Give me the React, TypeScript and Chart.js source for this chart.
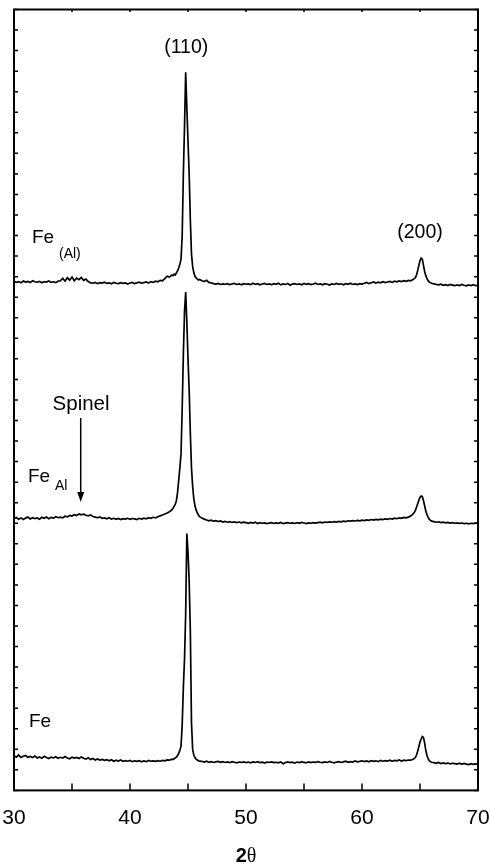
import { useEffect, useRef } from 'react';
import { Chart, registerables } from 'chart.js';

Chart.register(...registerables);

// 2θ (degrees) sampling positions
const twoTheta = [
  30.0, 30.2, 30.4, 30.6, 30.8, 31.0, 31.2, 31.4, 31.6, 31.8,
  32.0, 32.2, 32.4, 32.6, 32.8, 33.0, 33.2, 33.4, 33.6, 33.8,
  34.0, 34.2, 34.4, 34.6, 34.8, 35.0, 35.2, 35.4, 35.6, 35.8,
  36.0, 36.2, 36.4, 36.6, 36.8, 37.0, 37.2, 37.4, 37.6, 37.8,
  38.0, 38.2, 38.4, 38.6, 38.8, 39.0, 39.2, 39.4, 39.6, 39.8,
  40.0, 40.2, 40.4, 40.6, 40.8, 41.0, 41.2, 41.4, 41.6, 41.8,
  42.0, 42.2, 42.4, 42.6, 42.8, 43.0, 43.2, 43.4, 43.6,
  43.7, 43.8, 43.9, 44.0, 44.1, 44.2, 44.3, 44.4, 44.5, 44.6, 44.7, 44.8,
  44.9, 45.0, 45.1, 45.2, 45.3, 45.4, 45.5, 45.6, 45.7, 45.8, 45.9, 46.0,
  46.2, 46.4, 46.6, 46.8, 47.0, 47.2, 47.4, 47.6, 47.8, 48.0,
  48.2, 48.4, 48.6, 48.8, 49.0, 49.2, 49.4, 49.6, 49.8, 50.0,
  50.2, 50.4, 50.6, 50.8, 51.0, 51.2, 51.4, 51.6, 51.8, 52.0,
  52.2, 52.4, 52.6, 52.8, 53.0, 53.2, 53.4, 53.6, 53.8, 54.0,
  54.2, 54.4, 54.6, 54.8, 55.0, 55.2, 55.4, 55.6, 55.8, 56.0,
  56.2, 56.4, 56.6, 56.8, 57.0, 57.2, 57.4, 57.6, 57.8, 58.0,
  58.2, 58.4, 58.6, 58.8, 59.0, 59.2, 59.4, 59.6, 59.8, 60.0,
  60.2, 60.4, 60.6, 60.8, 61.0, 61.2, 61.4, 61.6, 61.8, 62.0,
  62.2, 62.4, 62.6, 62.8, 63.0, 63.2, 63.4, 63.6, 63.8, 64.0,
  64.2, 64.4,
  64.5, 64.6, 64.7, 64.8, 64.9, 65.0, 65.1, 65.2,
  65.3, 65.4, 65.5, 65.6, 65.7, 65.8, 65.9, 66.0,
  66.2, 66.4, 66.6, 66.8, 67.0, 67.2, 67.4, 67.6, 67.8, 68.0,
  68.2, 68.4, 68.6, 68.8, 69.0, 69.2, 69.4, 69.6, 69.8, 70.0,
];

// Fe(Al) pattern (top, offset intensity)
const feAlSolid = [
  24.78, 24.72, 24.76, 24.70, 24.79, 24.74, 24.77, 24.71, 24.80, 24.75,
  24.73, 24.77, 24.70, 24.76, 24.74, 24.79, 24.72, 24.75, 24.71, 24.78,
  24.80, 24.92, 24.78, 24.95, 24.83, 24.98, 24.80, 24.93, 24.85, 24.96,
  24.82, 24.88, 24.76, 24.70, 24.68, 24.72, 24.66, 24.71, 24.69, 24.73,
  24.67, 24.70, 24.65, 24.72, 24.68, 24.66, 24.71, 24.67, 24.70, 24.64,
  24.69, 24.72, 24.66, 24.70, 24.73, 24.68, 24.71, 24.74, 24.69, 24.76,
  24.72, 24.78, 24.75, 24.82, 24.80, 24.90, 25.02, 24.98, 25.08,
  25.05, 25.12, 25.08, 25.18, 25.28, 25.42, 25.60, 25.85, 27.00, 30.00, 32.30, 34.95,
  33.20, 31.60, 30.00, 27.80, 26.10, 25.50, 25.20, 25.02, 24.95, 24.88, 24.84, 24.86,
  24.80, 24.76, 24.82, 24.72, 24.70, 24.66, 24.64, 24.67, 24.62, 24.65,
  24.63, 24.66, 24.61, 24.64, 24.67, 24.62, 24.65, 24.60, 24.66, 24.63,
  24.65, 24.61, 24.68, 24.63, 24.66, 24.60, 24.64, 24.67, 24.62, 24.65,
  24.61, 24.66, 24.63, 24.68, 24.60, 24.65, 24.62, 24.67, 24.58, 24.64,
  24.66, 24.62, 24.65, 24.60, 24.67, 24.63, 24.66, 24.61, 24.64, 24.68,
  24.62, 24.65, 24.60, 24.66, 24.63, 24.59, 24.65, 24.62, 24.67, 24.63,
  24.65, 24.60, 24.66, 24.63, 24.68, 24.62, 24.65, 24.61, 24.66, 24.64,
  24.68, 24.72, 24.66, 24.70, 24.74, 24.69, 24.73, 24.70, 24.75, 24.71,
  24.74, 24.77, 24.72, 24.78, 24.75, 24.79, 24.76, 24.80, 24.77, 24.82,
  24.80, 24.86,
  24.90, 24.95, 25.08, 25.30, 25.55, 25.78, 25.90, 25.85,
  25.55, 25.25, 25.05, 24.90, 24.80, 24.75, 24.70, 24.68,
  24.65, 24.62, 24.60, 24.63, 24.58, 24.61, 24.57, 24.62, 24.59, 24.56,
  24.60, 24.57, 24.62, 24.58, 24.55, 24.60, 24.57, 24.61, 24.56, 24.58,
];

// Fe_Al pattern (middle)
const feAlCoated = [
  13.22, 13.28, 13.20, 13.26, 13.18, 13.25, 13.30, 13.21, 13.27, 13.23,
  13.26, 13.20, 13.29, 13.24, 13.30, 13.22, 13.28, 13.25, 13.32, 13.27,
  13.30, 13.26, 13.34, 13.31, 13.38, 13.35, 13.42, 13.38, 13.45, 13.41,
  13.44, 13.39, 13.36, 13.40, 13.33, 13.30, 13.27, 13.31, 13.24, 13.26,
  13.22, 13.27, 13.20, 13.24, 13.19, 13.23, 13.18, 13.22, 13.20, 13.24,
  13.19, 13.23, 13.21, 13.18, 13.24, 13.20, 13.25, 13.22, 13.27, 13.24,
  13.29, 13.26, 13.32, 13.36, 13.40, 13.45, 13.50, 13.56, 13.65,
  13.72, 13.82, 13.92, 14.10, 14.50, 15.10, 15.70, 16.40, 18.60, 21.20, 23.30, 24.25,
  22.80, 21.00, 19.50, 17.40, 15.70, 14.80, 14.20, 13.85, 13.65, 13.50, 13.40, 13.32,
  13.25, 13.20, 13.16, 13.12, 13.15, 13.10, 13.13, 13.08, 13.11, 13.06,
  13.09, 13.05, 13.08, 13.04, 13.07, 13.03, 13.06, 13.02, 13.05, 13.03,
  13.00, 13.04, 13.01, 13.05, 12.99, 13.03, 13.00, 13.02, 12.98, 13.01,
  13.03, 12.99, 13.02, 13.00, 13.04, 12.98, 13.01, 13.03, 13.00, 13.02,
  12.99, 13.03, 13.00, 13.04, 13.01, 12.98, 13.02, 13.00, 13.03, 13.01,
  13.03, 13.05, 13.02, 13.06, 13.04, 13.07, 13.05, 13.08, 13.06, 13.09,
  13.07, 13.10, 13.08, 13.12, 13.10, 13.13, 13.11, 13.14, 13.12, 13.15,
  13.13, 13.16, 13.14, 13.18, 13.15, 13.19, 13.17, 13.20, 13.18, 13.21,
  13.19, 13.23, 13.20, 13.25, 13.22, 13.26, 13.24, 13.28, 13.26, 13.30,
  13.35, 13.45,
  13.52, 13.62, 13.78, 13.95, 14.12, 14.25, 14.32, 14.30,
  14.10, 13.85, 13.60, 13.42, 13.30, 13.20, 13.14, 13.10,
  13.08, 13.05, 13.07, 13.03, 13.05, 13.02, 13.04, 13.01, 13.03, 13.00,
  13.02, 12.99, 13.01, 12.98, 13.00, 12.97, 13.00, 12.98, 13.01, 12.99,
];

// Fe pattern (bottom)
const fePure = [
  1.68, 1.62, 1.72, 1.60, 1.66, 1.70, 1.61, 1.65, 1.60, 1.67,
  1.58, 1.63, 1.57, 1.66, 1.60, 1.55, 1.62, 1.58, 1.64, 1.56,
  1.61, 1.57, 1.65, 1.58, 1.54, 1.62, 1.57, 1.60, 1.55, 1.63,
  1.56, 1.52, 1.59, 1.50, 1.55, 1.48, 1.53, 1.47, 1.51, 1.46,
  1.50, 1.44, 1.49, 1.42, 1.47, 1.43, 1.48, 1.41, 1.45, 1.42,
  1.46, 1.40, 1.44, 1.41, 1.45, 1.39, 1.43, 1.40, 1.46, 1.42,
  1.44, 1.41, 1.45, 1.42, 1.46, 1.44, 1.48, 1.47, 1.52,
  1.50, 1.54, 1.58, 1.62, 1.70, 1.80, 1.95, 2.15, 3.20, 5.00, 6.40, 8.60,
  12.50, 11.60, 10.20, 7.80, 3.30, 2.00, 1.72, 1.60, 1.52, 1.48, 1.44, 1.42,
  1.41, 1.38, 1.42, 1.37, 1.40, 1.36, 1.39, 1.41, 1.37, 1.40,
  1.36, 1.39, 1.35, 1.40, 1.37, 1.34, 1.38, 1.36, 1.39, 1.35,
  1.38, 1.34, 1.39, 1.36, 1.40, 1.35, 1.37, 1.33, 1.38, 1.36,
  1.39, 1.35, 1.37, 1.34, 1.38, 1.30, 1.36, 1.39, 1.35, 1.37,
  1.33, 1.38, 1.35, 1.40, 1.36, 1.34, 1.39, 1.35, 1.38, 1.36,
  1.40, 1.37, 1.35, 1.39, 1.36, 1.41, 1.37, 1.34, 1.38, 1.40,
  1.36, 1.39, 1.42, 1.37, 1.40, 1.38, 1.43, 1.39, 1.41, 1.44,
  1.40, 1.43, 1.39, 1.45, 1.41, 1.44, 1.40, 1.46, 1.42, 1.45,
  1.43, 1.47, 1.42, 1.46, 1.44, 1.48, 1.43, 1.47, 1.45, 1.48,
  1.47, 1.52,
  1.55, 1.60, 1.72, 1.90, 2.12, 2.35, 2.50, 2.62,
  2.58, 2.30, 1.95, 1.70, 1.55, 1.45, 1.40, 1.37,
  1.35, 1.32, 1.36, 1.31, 1.34, 1.30, 1.33, 1.29, 1.32, 1.30,
  1.28, 1.32, 1.27, 1.31, 1.28, 1.26, 1.30, 1.27, 1.29, 1.26,
];

const seriesNames = ['Fe (Al)', 'Fe Al', 'Fe'];
const xMinorTicks = [35, 45, 55, 65];

const FONT = '"Liberation Sans", Arial, Helvetica, sans-serif';

// annotation texts (positions in data units)
const peakLabels = [
  { text: '(110)', x: 44.85, y: 35.86 },
  { text: '(200)', x: 65.0, y: 26.87 },
];
const sampleLabels = [
  { main: 'Fe', sub: '(Al)', x: 31.55, y: 26.62, subX: 33.88, subY: 25.9 },
  { main: 'Fe', sub: 'Al', x: 31.2, y: 15.0, subX: 33.53, subY: 14.62 },
  { main: 'Fe', sub: '', x: 31.29, y: 3.08, subX: 0, subY: 0 },
];
const spinelNote = { text: 'Spinel', x: 35.78, y: 18.51, arrowFrom: 18.12, arrowTo: 14.04 };

const decorPlugin = {
  id: 'decor',
  afterDraw(chart: any) {
    const { ctx, chartArea: a, scales } = chart;
    const xs = scales.x;
    const ys = scales.y;
    ctx.save();
    ctx.strokeStyle = '#000';
    ctx.fillStyle = '#000';
    ctx.lineWidth = 1.5;
    // x ticks (inward)
    const majors = xs.ticks.map((t: any) => t.value);
    [...majors, ...xMinorTicks].forEach((v: number) => {
      const px = xs.getPixelForValue(v);
      ctx.beginPath();
      ctx.moveTo(px, a.bottom);
      ctx.lineTo(px, a.bottom - 7);
      ctx.stroke();
      ctx.beginPath();
      ctx.moveTo(px, a.top);
      ctx.lineTo(px, a.top + 2.5);
      ctx.stroke();
    });
    // y ticks (inward), both sides
    ys.ticks.forEach((t: any) => {
      const py = ys.getPixelForValue(t.value);
      ctx.beginPath();
      ctx.moveTo(a.left, py);
      ctx.lineTo(a.left + 4, py);
      ctx.moveTo(a.right, py);
      ctx.lineTo(a.right - 4, py);
      ctx.stroke();
    });
    // frame
    ctx.lineWidth = 2;
    ctx.strokeRect(a.left, a.top, a.right - a.left, a.bottom - a.top);

    // peak labels
    ctx.textBaseline = 'alphabetic';
    ctx.font = `19.5px ${FONT}`;
    ctx.textAlign = 'center';
    peakLabels.forEach((l) => {
      ctx.fillText(l.text, xs.getPixelForValue(l.x), ys.getPixelForValue(l.y));
    });
    // sample labels
    ctx.textAlign = 'left';
    sampleLabels.forEach((l) => {
      ctx.font = `19px ${FONT}`;
      ctx.fillText(l.main, xs.getPixelForValue(l.x), ys.getPixelForValue(l.y));
      if (l.sub) {
        ctx.font = `14px ${FONT}`;
        ctx.fillText(l.sub, xs.getPixelForValue(l.subX), ys.getPixelForValue(l.subY));
      }
    });
    // spinel note + arrow
    ctx.font = `20.5px ${FONT}`;
    ctx.textAlign = 'center';
    const sx = xs.getPixelForValue(spinelNote.x);
    ctx.fillText(spinelNote.text, sx, ys.getPixelForValue(spinelNote.y));
    const ax = xs.getPixelForValue(spinelNote.x - 0.03);
    const y0 = ys.getPixelForValue(spinelNote.arrowFrom);
    const y1 = ys.getPixelForValue(spinelNote.arrowTo);
    ctx.lineWidth = 1.5;
    ctx.beginPath();
    ctx.moveTo(ax, y0);
    ctx.lineTo(ax, y1 - 8);
    ctx.stroke();
    ctx.beginPath();
    ctx.moveTo(ax, y1);
    ctx.lineTo(ax - 3.5, y1 - 10);
    ctx.lineTo(ax + 3.5, y1 - 10);
    ctx.closePath();
    ctx.fill();

    // axis title 2θ
    const cx = (a.left + a.right) / 2;
    ctx.textAlign = 'left';
    ctx.font = `bold 20px ${FONT}`;
    const w2 = ctx.measureText('2').width;
    ctx.font = `20px "Liberation Serif", "Times New Roman", serif`;
    const wt = ctx.measureText('θ').width;
    const start = cx - (w2 + wt) / 2;
    ctx.font = `bold 20px ${FONT}`;
    ctx.fillText('2', start, 862);
    ctx.font = `20px "Liberation Serif", "Times New Roman", serif`;
    ctx.fillText('θ', start + w2, 862);
    ctx.restore();
  },
};

export default function App() {
  const ref = useRef<HTMLCanvasElement | null>(null);
  useEffect(() => {
    if (!ref.current) return;
    const series = [feAlSolid, feAlCoated, fePure];
    const chart = new Chart(ref.current, {
      type: 'line',
      data: {
        datasets: series.map((s, k) => ({
          label: seriesNames[k],
          data: twoTheta.map((x, i) => ({ x, y: s[i] })),
          borderColor: '#000',
          borderWidth: 1.7,
          pointRadius: 0,
          tension: 0,
          fill: false,
        })),
      },
      options: {
        animation: false,
        responsive: false,
        devicePixelRatio: 1,
        layout: { padding: { top: 9.5, left: 14, right: 13, bottom: 0 } },
        plugins: { legend: { display: false }, tooltip: { enabled: false } },
        scales: {
          x: {
            type: 'linear',
            min: 30,
            max: 70,
            grid: {
              display: true,
              drawOnChartArea: false,
              drawTicks: true,
              tickLength: 15,
              color: 'rgba(0,0,0,0)',
            },
            border: { display: false },
            ticks: {
              stepSize: 10,
              color: '#000',
              padding: 0,
              maxRotation: 0,
              font: { family: FONT, size: 21 },
            },
            afterFit: (s: any) => {
              s.height = 74.6;
            },
          },
          y: {
            type: 'linear',
            min: 0,
            max: 38,
            grid: { display: false },
            border: { display: false },
            ticks: { stepSize: 1, display: false },
            afterFit: (s: any) => {
              s.width = 0;
            },
          },
        },
      },
      plugins: [decorPlugin],
    });
    return () => chart.destroy();
  }, []);
  return (
    <div style={{ position: 'absolute', left: 0, top: 0, width: 491, height: 865, background: '#fff' }}>
      <canvas ref={ref} width={491} height={865} style={{ width: 491, height: 865, display: 'block' }} />
    </div>
  );
}
